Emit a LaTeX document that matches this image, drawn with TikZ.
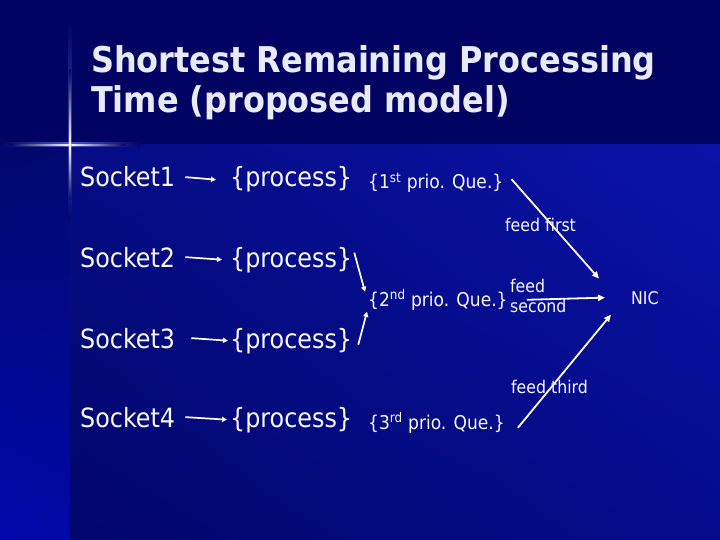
\documentclass[tikz,border=0pt]{standalone}
\usepackage{fontspec}
\usetikzlibrary{arrows.meta,calc,shadings}
\setmainfont{DejaVu Sans Condensed}
\newfontfamily\titlefont{DejaVu Sans Condensed}
\definecolor{topband}{RGB}{0,3,98}
\definecolor{txt}{RGB}{248,248,255}
\definecolor{ttl}{RGB}{232,234,248}
\definecolor{flare}{RGB}{110,150,255}
\definecolor{lsUL}{RGB}{0,8,108}
\definecolor{lsLL}{RGB}{0,8,172}
\definecolor{lsUR}{RGB}{0,8,112}
\definecolor{lsLR}{RGB}{0,8,165}
\definecolor{mpUL}{RGB}{5,12,132}
\definecolor{mpUR}{RGB}{10,18,168}
\definecolor{mpLL}{RGB}{0,6,106}
\definecolor{mpLR}{RGB}{4,12,140}
\tikzset{
  ttltext/.style={anchor=base west,inner sep=0pt,text=ttl,font=\titlefont\bfseries\fontsize{35.5}{40}\selectfont},
  sock/.style={anchor=base west,inner sep=0pt,text=txt,font=\fontsize{26.5}{30}\selectfont},
  que/.style={anchor=base west,inner sep=0pt,text=txt,font=\fontsize{19}{23}\selectfont},
  lbl/.style={anchor=base west,inner sep=0pt,text=txt,font=\fontsize{17.5}{20}\selectfont},
  arr/.style={draw=white,line width=1.8pt,-{Triangle[length=7pt,width=6pt]}},
  sarr/.style={draw=white,line width=1.7pt,-{Triangle[length=5pt,width=5pt]}},
}
\begin{document}
\begin{tikzpicture}[x=1pt,y=-1pt]
\useasboundingbox (0,0) rectangle (720,540);
% background
\fill[topband] (0,0) rectangle (720,145);
\shade[upper left=lsUL,lower left=lsLL,upper right=lsUR,lower right=lsLR]
  (0,145) rectangle (70,540);
\shade[upper left=mpUL,upper right=mpUR,lower left=mpLL,lower right=mpLR]
  (70,145) rectangle (720,540);
% lens flare
\shade[left color=topband,right color=flare,opacity=0.6] (0,143) rectangle (70,147);
\shade[left color=flare,right color=topband,opacity=0.6] (70,143) rectangle (140,147);
\shade[left color=topband,right color=white] (10,144.3) rectangle (70,145.7);
\shade[left color=white,right color=topband] (70,144.3) rectangle (125,145.7);
\shade[top color=topband,bottom color=flare,opacity=0.5] (68.5,20) rectangle (71.5,145);
\shade[top color=flare,bottom color=topband,opacity=0.5] (68.5,145) rectangle (71.5,220);
\shade[top color=topband,bottom color=white] (69.3,70) rectangle (70.7,145);
\shade[top color=white,bottom color=topband] (69.3,145) rectangle (70.7,200);
\fill[white] (70,145) circle (1.6);
% title
\node[ttltext] (t1) at (91,73) {Shortest Remaining Processing};
\node[ttltext] (t2) at (91,113) {Time (proposed model)};
% sockets
\node[sock] (s1) at (80,187) {Socket1};
\node[sock] (s2) at (80,267) {Socket2};
\node[sock] (s3) at (80,348) {Socket3};
\node[sock] (s4) at (80,427) {Socket4};
\node[sock] (p1) at (230,187) {\{process\}};
\node[sock] (p2) at (230,267) {\{process\}};
\node[sock] (p3) at (230,348) {\{process\}};
\node[sock] (p4) at (230,427) {\{process\}};
\node[que] (q1) at (368,189) {\{1\textsuperscript{st} prio. Que.\}};
\node[que] (q2) at (368,306) {\{2\textsuperscript{nd} prio. Que.\}};
\node[que] (q3) at (368,429) {\{3\textsuperscript{rd} prio. Que.\}};
\node[lbl] (f1) at (505,232) {feed first};
\node[lbl] (f2a) at (510,292) {feed};
\node[lbl] (f2b) at (510,312) {second};
\node[lbl] (f3) at (511,393) {feed third};
\node[lbl] (nic) at (631,304) {NIC};
% connectors
\draw[sarr] ([xshift=10pt]s1.east) -- ([xshift=-14pt]p1.west);
\draw[sarr] ([xshift=10pt]s2.east) -- ([xshift=-8pt]p2.west);
\draw[sarr] ([xshift=16pt]s3.east) -- ([xshift=-2pt]p3.west);
\draw[sarr] ([xshift=10pt]s4.east) -- ([xshift=-3pt]p4.west);
\draw[sarr] ($(p2.north east)+(2,6)$) -- ($(q2.west)+(-3,-8)$);
\draw[sarr] ($(p3.east)+(6,4)$) -- ($(q2.west)+(-1,12)$);
\draw[arr] ($(q1.east)+(8,-4)$) -- ($(nic.west)+(-32,-19)$);
\draw[arr] ($(q2.east)+(19,0)$) -- ($(nic.west)+(-26,0)$);
\draw[arr] ($(q3.east)+(13,5)$) -- ($(nic.west)+(-20,17)$);
\end{tikzpicture}
\end{document}
